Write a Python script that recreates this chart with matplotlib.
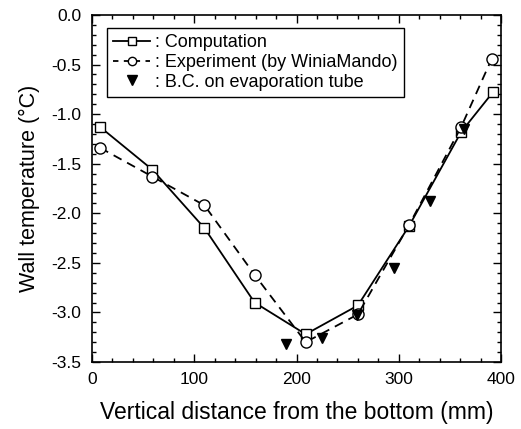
import matplotlib
matplotlib.use("Agg")
import matplotlib.pyplot as plt
from matplotlib.lines import Line2D
from matplotlib.ticker import MultipleLocator, FormatStrFormatter

plt.rcParams['font.family'] = ['Liberation Sans', 'DejaVu Sans']

comp_x = [8, 59, 110, 159, 209, 260, 310, 361, 392]
comp_y = [-1.13, -1.56, -2.15, -2.90, -3.22, -2.93, -2.13, -1.18, -0.78]
exp_x = [8, 59, 110, 159, 209, 260, 310, 361, 391]
exp_y = [-1.34, -1.63, -1.92, -2.62, -3.30, -3.02, -2.12, -1.13, -0.44]
bc_x = [190, 225, 259, 295, 331, 364]
bc_y = [-3.32, -3.26, -3.03, -2.55, -1.88, -1.15]

labels = [': Computation', ': Experiment (by WiniaMando)', ': B.C. on evaporation tube']
xlabel = 'Vertical distance from the bottom (mm)'
ylabel = 'Wall temperature (\u00b0C)'

fig = plt.figure(figsize=(5.21, 4.29), dpi=100)
ax = fig.add_axes([0.1766, 0.1562, 0.7850, 0.8088])

ax.plot(comp_x, comp_y, '-', color='black', lw=1.3, marker='s', ms=7.5,
        mfc='white', mec='black', mew=1.0, zorder=3)
ax.plot(exp_x, exp_y, color='black', lw=1.3, dashes=(5, 3.5), marker='o', ms=8,
        mfc='white', mec='black', mew=1.0, zorder=4)
ax.plot(bc_x, bc_y, linestyle='none', marker='v', ms=7.5, color='black', zorder=5)

ax.set_xlim(0, 400)
ax.set_ylim(-3.5, 0.0)
ax.xaxis.set_major_locator(MultipleLocator(100))
ax.xaxis.set_minor_locator(MultipleLocator(20))
ax.yaxis.set_major_locator(MultipleLocator(0.5))
ax.yaxis.set_minor_locator(MultipleLocator(0.1))
ax.yaxis.set_major_formatter(FormatStrFormatter('%.1f'))
ax.tick_params(which='both', direction='in', top=True, right=True, width=1.0)
ax.tick_params(which='major', length=6, labelsize=12.5, pad=7.5)
ax.tick_params(which='minor', length=3)
for s in ax.spines.values():
    s.set_linewidth(1.2)

ax.set_xlabel(xlabel, fontsize=16.5, labelpad=10)
ax.set_ylabel(ylabel, fontsize=15.5, labelpad=8)

h1 = Line2D([], [], color='black', lw=1.3, marker='s', ms=6, mfc='white', mec='black')
h2 = Line2D([], [], color='black', lw=1.3, dashes=(3, 3), marker='o', ms=6, mfc='white', mec='black')
h3 = Line2D([], [], linestyle='none', marker='v', ms=7, color='black')
leg = ax.legend([h1, h2, h3], labels, loc='upper left',
                bbox_to_anchor=(0.037, 0.9625), borderaxespad=0,
                fontsize=13, frameon=True, fancybox=False, edgecolor='black',
                framealpha=1, handlelength=2.0, handletextpad=0.3,
                labelspacing=0.15, borderpad=0.35)
leg.get_frame().set_linewidth(1.0)

fig.savefig('out.png', dpi=100)
